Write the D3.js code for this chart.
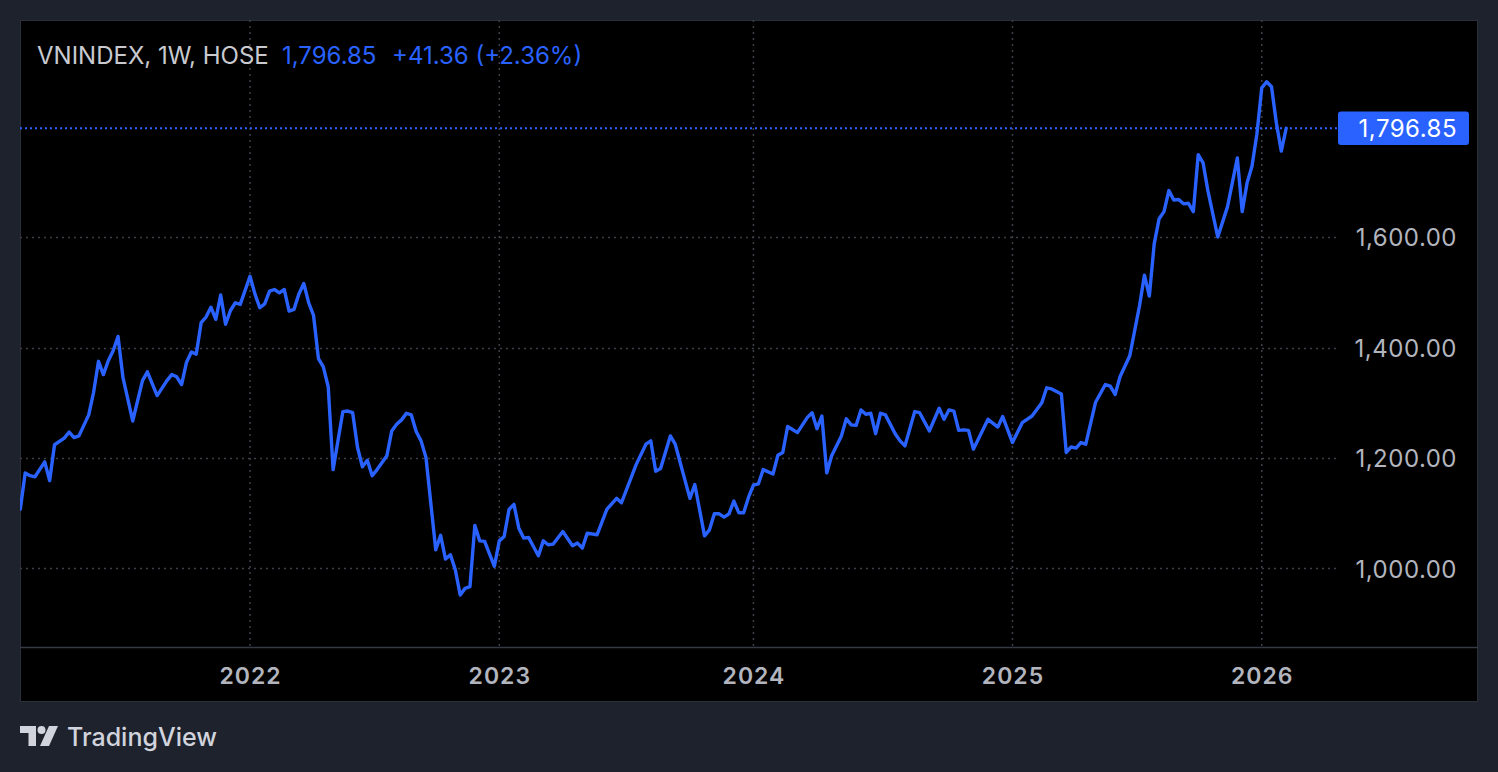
<!DOCTYPE html>
<html>
<head>
<meta charset="utf-8">
<script src="https://cdn.jsdelivr.net/npm/d3@7"></script>
<style>
    body { margin: 0; background: #1e222d; }
    svg { display: block; }
    text { font-family: Inter, "Noto Sans", sans-serif; }
</style>
</head>
<body>
<script>

// weekly closes (vertices of the line), date = monday of the bar
let weekDates = [
    "2021-02-08", "2021-02-15", "2021-02-22", "2021-03-01", "2021-03-15", "2021-03-22", "2021-03-29",
    "2021-04-12", "2021-04-19", "2021-04-26", "2021-05-03", "2021-05-17", "2021-05-24", "2021-05-31",
    "2021-06-07", "2021-06-14", "2021-06-21", "2021-06-28", "2021-07-05", "2021-07-19", "2021-08-02",
    "2021-08-09", "2021-08-23", "2021-09-06", "2021-09-13", "2021-09-20", "2021-09-27", "2021-10-04",
    "2021-10-11", "2021-10-18", "2021-10-25", "2021-11-01", "2021-11-08", "2021-11-15", "2021-11-22",
    "2021-11-29", "2021-12-06", "2021-12-13", "2021-12-20",
    "2022-01-03", "2022-01-10", "2022-01-17", "2022-01-24", "2022-02-07", "2022-02-14", "2022-02-21",
    "2022-02-28", "2022-03-07", "2022-03-14", "2022-03-21", "2022-03-28", "2022-04-04", "2022-04-11",
    "2022-04-18", "2022-04-25", "2022-05-02", "2022-05-09", "2022-05-23", "2022-05-30", "2022-06-06",
    "2022-06-13", "2022-06-20", "2022-06-27", "2022-07-04", "2022-07-11", "2022-07-25", "2022-08-01",
    "2022-08-08", "2022-08-15", "2022-08-22", "2022-08-29", "2022-09-05", "2022-09-12", "2022-09-19",
    "2022-10-03", "2022-10-10", "2022-10-17", "2022-10-24", "2022-10-31", "2022-11-07", "2022-11-14",
    "2022-11-21", "2022-11-28", "2022-12-05", "2022-12-12", "2022-12-26",
    "2023-01-02", "2023-01-09", "2023-01-16", "2023-01-23", "2023-01-30", "2023-02-06", "2023-02-13",
    "2023-02-27", "2023-03-06", "2023-03-13", "2023-03-20", "2023-04-03", "2023-04-17", "2023-04-24",
    "2023-05-01", "2023-05-08", "2023-05-22", "2023-06-05", "2023-06-19", "2023-06-26", "2023-07-17",
    "2023-07-31", "2023-08-07", "2023-08-14", "2023-08-21", "2023-09-04", "2023-09-11", "2023-10-02",
    "2023-10-09", "2023-10-23", "2023-10-30", "2023-11-06", "2023-11-13", "2023-11-20", "2023-11-27",
    "2023-12-04", "2023-12-11", "2023-12-18", "2023-12-25",
    "2024-01-01", "2024-01-08", "2024-01-15", "2024-01-29", "2024-02-05", "2024-02-12", "2024-02-19",
    "2024-03-04", "2024-03-18", "2024-03-25", "2024-04-01", "2024-04-08", "2024-04-15", "2024-04-22",
    "2024-05-06", "2024-05-13", "2024-05-20", "2024-05-27", "2024-06-03", "2024-06-10", "2024-06-17",
    "2024-06-24", "2024-07-01", "2024-07-08", "2024-07-22", "2024-07-29", "2024-08-05", "2024-08-19",
    "2024-08-26", "2024-09-09", "2024-09-23", "2024-09-30", "2024-10-07", "2024-10-14", "2024-10-21",
    "2024-10-28", "2024-11-04", "2024-11-11", "2024-12-02", "2024-12-16", "2024-12-23",
    "2025-01-06", "2025-01-20", "2025-02-10", "2025-02-24", "2025-03-03", "2025-03-10", "2025-03-24",
    "2025-03-31", "2025-04-07", "2025-04-14", "2025-04-21", "2025-04-28", "2025-05-12", "2025-05-26",
    "2025-06-02", "2025-06-09", "2025-06-16", "2025-06-30", "2025-07-14", "2025-07-21", "2025-07-28",
    "2025-08-04", "2025-08-11", "2025-08-18", "2025-08-25", "2025-09-01", "2025-09-08", "2025-09-15",
    "2025-09-22", "2025-09-29", "2025-10-06", "2025-10-13", "2025-10-20", "2025-11-03", "2025-11-17",
    "2025-12-01", "2025-12-08", "2025-12-15", "2025-12-22", "2025-12-29",
    "2026-01-05", "2026-01-12", "2026-01-19", "2026-01-26", "2026-02-02", "2026-02-09"
];

let closes = [
    1107, 1173, 1168, 1166, 1193, 1159, 1224,
    1236, 1247, 1237, 1240, 1278, 1319, 1375,
    1351, 1376, 1394, 1420, 1346, 1267, 1340,
    1356, 1313, 1340, 1351, 1347, 1333, 1373,
    1392, 1388, 1445, 1455, 1473, 1451, 1495,
    1442, 1467, 1481, 1478,
    1529, 1497, 1472, 1479, 1502, 1505, 1499,
    1505, 1466, 1469, 1497, 1516, 1481, 1458,
    1380, 1365, 1329, 1179, 1284, 1285, 1282,
    1219, 1184, 1196, 1168, 1179, 1204, 1249,
    1261, 1269, 1281, 1278, 1248, 1231, 1201,
    1034, 1060, 1017, 1025, 998, 952, 964,
    967, 1078, 1050, 1049, 1004,
    1050, 1058, 1107, 1116, 1073, 1055, 1056,
    1023, 1050, 1043, 1044, 1067, 1041, 1046,
    1037, 1064, 1061, 1107, 1127, 1119, 1188,
    1225, 1231, 1176, 1181, 1240, 1225, 1127,
    1152, 1059, 1070, 1099, 1099, 1093, 1099,
    1122, 1101, 1101, 1129,
    1151, 1153, 1179, 1171, 1205, 1210, 1257,
    1246, 1273, 1282, 1253, 1276, 1173, 1204,
    1240, 1271, 1260, 1259, 1287, 1279, 1281,
    1244, 1281, 1278, 1244, 1231, 1222, 1284,
    1282, 1249, 1290, 1270, 1287, 1285, 1250,
    1251, 1250, 1216, 1270, 1256, 1275,
    1228, 1264, 1276, 1300, 1327, 1325, 1316,
    1210, 1220, 1218, 1228, 1225, 1301, 1333,
    1330, 1315, 1347, 1385, 1476, 1531, 1493,
    1588, 1633, 1646, 1684, 1667, 1668, 1660,
    1661, 1646, 1749, 1734, 1683, 1600, 1655,
    1743, 1646, 1698, 1728, 1786,
    1870, 1881, 1872, 1806, 1755.49, 1796.85
];

// weeks with no trading at all (Tet holidays) -> no bar
let closedWeeks = ["2022-01-31", "2025-01-27"];

let priceTicks = [1000, 1200, 1400, 1600];

let symbolText = "VNINDEX, 1W, HOSE";
let lastClose = 1796.85;
let change = 41.36;
let changePct = 2.36;

var w = 1498;
var h = 772;
// note: "top" is taken by window.top, so plot edges get their own names
var plotLeft = 20, plotRight = 1338, plotTop = 20, plotBottom = 647;
var blue = "#2962ff";

var parseDate = d3.timeParse("%Y-%m-%d");
var fmtDate = d3.timeFormat("%Y-%m-%d");

var points = weekDates.map(function (d, i) {
    return { date: parseDate(d), close: closes[i] };
});

// tradingview spaces bars evenly, holidays don't take room
var bars = d3.timeMonday.range(points[0].date, d3.timeDay.offset(points[points.length - 1].date, 1))
    .filter(function (d) { return closedWeeks.indexOf(fmtDate(d)) < 0; });
var barIndex = {};
bars.forEach(function (d, i) { barIndex[fmtDate(d)] = i; });

var xScale = d3.scaleLinear()
    .domain([-0.06, bars.length - 1 + 10.6])
    .range([plotLeft, plotRight]);

var yScale = d3.scaleLinear()
    .domain([857.9, 1992.8])
    .range([plotBottom, plotTop]);

var yearStarts = bars.filter(function (d, i) {
    return i > 0 && d.getFullYear() != bars[i - 1].getFullYear();
});

var svg = d3.select("body")
    .append("svg")
    .attr("width", w)
    .attr("height", h);

// black chart panel
svg.append("rect")
    .attr("x", 20.5)
    .attr("y", 20.5)
    .attr("width", 1457)
    .attr("height", 681)
    .attr("fill", "#000")
    .attr("stroke", "#2a2e39");

svg.append("clipPath")
    .attr("id", "plotclip")
    .append("rect")
    .attr("x", plotLeft)
    .attr("y", plotTop)
    .attr("width", plotRight - plotLeft)
    .attr("height", plotBottom - plotTop);

// horizontal grid
svg.selectAll(".hgrid")
    .data(priceTicks)
    .enter()
    .append("line")
    .attr("class", "hgrid")
    .attr("x1", plotLeft)
    .attr("x2", plotRight)
    .attr("y1", function (d) { return Math.round(yScale(d)) + 0.5; })
    .attr("y2", function (d) { return Math.round(yScale(d)) + 0.5; })
    .attr("stroke", "#3c3f47")
    .attr("stroke-width", 1.5)
    .attr("stroke-dasharray", "2 4");

// vertical grid at year starts
svg.selectAll(".vgrid")
    .data(yearStarts)
    .enter()
    .append("line")
    .attr("class", "vgrid")
    .attr("x1", function (d) { return xScale(barIndex[fmtDate(d)]); })
    .attr("x2", function (d) { return xScale(barIndex[fmtDate(d)]); })
    .attr("y1", plotTop)
    .attr("y2", plotBottom)
    .attr("stroke", "#3c3f47")
    .attr("stroke-width", 1.5)
    .attr("stroke-dasharray", "2 4");

// time axis border
svg.append("line")
    .attr("x1", plotLeft)
    .attr("x2", 1478)
    .attr("y1", plotBottom + 0.5)
    .attr("y2", plotBottom + 0.5)
    .attr("stroke", "#363a45")
    .attr("stroke-width", 1.5);

// last price dotted line
svg.append("line")
    .attr("x1", plotLeft)
    .attr("x2", plotRight)
    .attr("y1", yScale(lastClose))
    .attr("y2", yScale(lastClose))
    .attr("stroke", blue)
    .attr("stroke-width", 2)
    .attr("stroke-dasharray", "2 3");

var line = d3.line()
    .x(function (d) { return xScale(barIndex[fmtDate(d.date)]); })
    .y(function (d) { return yScale(d.close); });

svg.append("path")
    .datum(points)
    .attr("clip-path", "url(#plotclip)")
    .attr("d", line)
    .attr("fill", "none")
    .attr("stroke", blue)
    .attr("stroke-width", 3.4)
    .attr("stroke-linejoin", "round")
    .attr("stroke-linecap", "round");

// price axis
var yAxis = d3.axisRight(yScale)
    .tickValues(priceTicks)
    .tickSize(0)
    .tickFormat(d3.format(",.2f"));

var yAxisG = svg.append("g")
    .attr("transform", "translate(1457,0)")
    .call(yAxis);
yAxisG.select(".domain").remove();
yAxisG.selectAll("text")
    .attr("x", 0)
    .attr("dy", "0.36em")
    .attr("text-anchor", "end")
    .attr("fill", "#b2b5be")
    .style("font-size", "24px")
    .style("letter-spacing", "0.5px")
    .style("font-family", "Inter, sans-serif");

// time axis
var xAxis = d3.axisBottom(xScale)
    .tickValues(yearStarts.map(function (d) { return barIndex[fmtDate(d)]; }))
    .tickSize(0)
    .tickFormat(function (i) { return bars[i].getFullYear(); });

var xAxisG = svg.append("g")
    .attr("transform", "translate(0,684)")
    .call(xAxis);
xAxisG.select(".domain").remove();
xAxisG.selectAll("text")
    .attr("y", 0)
    .attr("dy", 0)
    .attr("fill", "#b2b5be")
    .style("font-size", "23px")
    .style("font-weight", 600)
    .style("letter-spacing", "1px")
    .style("font-family", "Inter, sans-serif");

// last price label
svg.append("rect")
    .attr("x", plotRight)
    .attr("y", yScale(lastClose) - 16.8)
    .attr("width", 131)
    .attr("height", 33.5)
    .attr("rx", 3)
    .attr("fill", blue);

svg.append("text")
    .attr("x", 1457)
    .attr("y", yScale(lastClose))
    .attr("dy", "0.36em")
    .attr("text-anchor", "end")
    .attr("fill", "#ffffff")
    .style("font-size", "24px")
    .style("letter-spacing", "0.5px")
    .text(d3.format(",.2f")(lastClose));

// legend line at the top
svg.append("text")
    .attr("x", 37)
    .attr("y", 64)
    .attr("fill", "#c8cad0")
    .style("font-size", "24px")
    .text(symbolText);

svg.append("text")
    .attr("x", 282)
    .attr("y", 64)
    .attr("fill", blue)
    .style("font-size", "24px")
    .text(d3.format(",.2f")(lastClose));

svg.append("text")
    .attr("x", 392)
    .attr("y", 64)
    .attr("fill", blue)
    .style("font-size", "24px")
    .text("+" + change.toFixed(2) + " (+" + changePct.toFixed(2) + "%)");

// TradingView logo
var logo = svg.append("g").attr("fill", "#d1d4dc");
logo.append("path").attr("d", "M20,726 H36 V746 H28.5 V733 H20 Z");
logo.append("circle").attr("cx", 41.5).attr("cy", 730).attr("r", 4);
logo.append("path").attr("d", "M49,726 H58 L49,746 H40 Z");
logo.append("text")
    .attr("x", 67)
    .attr("y", 746)
    .style("font-size", "25px")
    .style("font-weight", 500)
    .text("TradingView");

</script>
</body>
</html>
